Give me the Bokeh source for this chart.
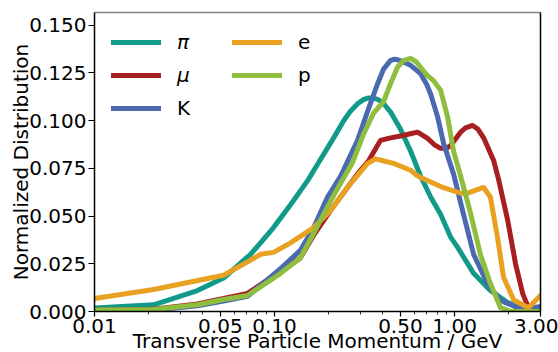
from bokeh.plotting import figure
from bokeh.models import (FixedTicker, CustomJSTickFormatter, LogAxis, LinearAxis,
                          Legend, LegendItem, Range1d)
from bokeh.embed import file_html
from bokeh.resources import INLINE

# ---------------- data ----------------
pi_x = [0.01, 0.0213, 0.0373, 0.0521, 0.0736, 0.0836, 0.0987, 0.1227, 0.153, 0.173, 0.213,
        0.242, 0.264, 0.290, 0.312, 0.329, 0.350, 0.374, 0.403, 0.441, 0.501, 0.570, 0.647,
        0.736, 0.836, 0.950, 1.04, 1.275, 1.58, 1.97, 2.42, 3.0]
pi_y = [0.0019, 0.0035, 0.011, 0.0175, 0.030, 0.036, 0.044, 0.0560, 0.0687, 0.077, 0.091,
        0.100, 0.105, 0.109, 0.111, 0.1118, 0.112, 0.1112, 0.109, 0.1045, 0.0955, 0.084, 0.071,
        0.060, 0.051, 0.039, 0.0336, 0.020, 0.011, 0.0047, 0.0015, 0.0]

mu_x = [0.01, 0.0213, 0.0373, 0.0521, 0.0708, 0.108, 0.139, 0.165, 0.205, 0.254, 0.300,
        0.333, 0.388, 0.441, 0.501, 0.560, 0.623, 0.708, 0.770, 0.836, 0.900, 0.950, 1.08,
        1.15, 1.26, 1.35, 1.45, 1.65, 1.76, 1.97, 2.18, 2.39, 2.57, 3.0]
mu_y = [0.0006, 0.0012, 0.004, 0.0068, 0.0095, 0.021, 0.028, 0.040, 0.053, 0.065, 0.074,
        0.079, 0.0897, 0.091, 0.092, 0.093, 0.094, 0.0907, 0.0875, 0.0855, 0.0855, 0.087, 0.094,
        0.0962, 0.0975, 0.0955, 0.091, 0.079, 0.0687, 0.048, 0.025, 0.0094, 0.002, 0.0]

k_x = [0.01, 0.0213, 0.0373, 0.0521, 0.0708, 0.108, 0.139, 0.165, 0.197, 0.233, 0.289,
       0.329, 0.374, 0.403, 0.441, 0.465, 0.488, 0.520, 0.570, 0.647, 0.700, 0.736, 0.805,
       0.869, 0.987, 1.12, 1.275, 1.52, 1.80, 2.24, 2.75, 3.0]
k_y = [0.0004, 0.0007, 0.003, 0.0055, 0.008, 0.0225, 0.032, 0.044, 0.060, 0.071, 0.0897,
       0.105, 0.1195, 0.127, 0.1316, 0.1322, 0.1318, 0.1308, 0.129, 0.1247, 0.119, 0.114,
       0.102, 0.088, 0.072, 0.051, 0.030, 0.0147, 0.0058, 0.002, 0.002, 0.0026]

e_x = [0.01, 0.0213, 0.0521, 0.0708, 0.0836, 0.0987, 0.1227, 0.165, 0.205, 0.254, 0.329,
       0.364, 0.400, 0.458, 0.570, 0.623, 0.836, 1.08, 1.18, 1.45, 1.58, 1.73, 1.87, 2.13,
       2.57, 3.0]
e_y = [0.0068, 0.0115, 0.019, 0.026, 0.030, 0.031, 0.036, 0.044, 0.053, 0.065, 0.0776,
       0.080, 0.079, 0.0776, 0.074, 0.071, 0.0655, 0.062, 0.062, 0.065, 0.060, 0.039, 0.018,
       0.006, 0.002, 0.0084]

p_x = [0.01, 0.0213, 0.0373, 0.0521, 0.0708, 0.108, 0.139, 0.165, 0.205, 0.242, 0.271,
       0.312, 0.355, 0.403, 0.441, 0.482, 0.520, 0.570, 0.610, 0.647, 0.700, 0.764, 0.836,
       0.914, 0.987, 1.08, 1.23, 1.39, 1.58, 1.80, 2.05, 3.0]
p_y = [0.0008, 0.001, 0.0035, 0.0063, 0.0084, 0.020, 0.028, 0.041, 0.058, 0.070, 0.078,
       0.093, 0.104, 0.110, 0.1195, 0.128, 0.1315, 0.1327, 0.131, 0.128, 0.124, 0.121, 0.116,
       0.102, 0.084, 0.071, 0.051, 0.030, 0.0147, 0.002, 0.0, 0.0]

x_ticks = [0.01, 0.05, 0.1, 0.5, 1.0, 3.0]
x_minor = [0.02, 0.03, 0.04, 0.06, 0.07, 0.08, 0.09, 0.2, 0.3, 0.4, 0.6, 0.7, 0.8, 0.9, 2.0]
y_ticks = [0.0, 0.025, 0.05, 0.075, 0.1, 0.125, 0.15]

FONT = "DejaVu Sans"
FS = "20px"

p = figure(frame_width=446, frame_height=299, x_axis_type="log",
           x_range=Range1d(0.01, 3.0), y_range=Range1d(0, 0.1567),
           output_backend="svg", toolbar_location=None,
           min_border_left=94, min_border_right=18, min_border_top=12, min_border_bottom=41,
           background_fill_color="white", border_fill_color="white")
p.outline_line_color = None
p.xgrid.visible = False
p.ygrid.visible = False

series = [
    ("π", pi_x, pi_y, "#11998a"),
    ("μ", mu_x, mu_y, "#a81f22"),
    ("K", k_x, k_y, "#4a69b0"),
    ("e", e_x, e_y, "#e8a121"),
    ("p", p_x, p_y, "#8fbd3d"),
]
rs = {}
for name, xs, ys, col in series:
    rs[name] = p.line(xs, ys, line_width=5, line_color=col, line_join="round", line_cap="round")

# x axis
xa = p.xaxis[0]
xa.ticker = FixedTicker(ticks=x_ticks, minor_ticks=x_minor)
xa.formatter = CustomJSTickFormatter(code="return tick.toFixed(2)")
xa.major_label_text_font = FONT
xa.major_label_text_font_size = FS
xa.major_label_text_color = "black"
xa.major_label_standoff = 2
xa.major_tick_out = 5
xa.major_tick_in = 0
xa.minor_tick_out = 3
xa.minor_tick_in = 0
xa.axis_line_color = "black"
xa.axis_line_width = 1.5
xa.major_tick_line_color = "black"
xa.major_tick_line_width = 1.2
xa.minor_tick_line_color = "black"
xa.minor_tick_line_width = 0.8
xa.axis_label = "Transverse Particle Momentum / GeV"
xa.axis_label_text_font = FONT
xa.axis_label_text_font_size = FS
xa.axis_label_text_font_style = "normal"
xa.axis_label_text_color = "black"
xa.axis_label_standoff = -7

# y axis
ya = p.yaxis[0]
ya.ticker = FixedTicker(ticks=y_ticks)
ya.formatter = CustomJSTickFormatter(code="return tick.toFixed(3)")
ya.major_label_text_font = FONT
ya.major_label_text_font_size = FS
ya.major_label_text_color = "black"
ya.major_label_standoff = 2
ya.major_tick_out = 6
ya.major_tick_in = 0
ya.minor_tick_line_color = None
ya.axis_line_color = "black"
ya.axis_line_width = 1.5
ya.major_tick_line_color = "black"
ya.major_tick_line_width = 1.2
ya.axis_label = "Normalized Distribution"
ya.axis_label_text_font = FONT
ya.axis_label_text_font_size = FS
ya.axis_label_text_font_style = "normal"
ya.axis_label_text_color = "black"
ya.axis_label_standoff = -7

# top (grey) and right (black) spines
top = LogAxis(ticker=FixedTicker(ticks=[]), axis_line_color="#808080", axis_line_width=1.5,
              major_tick_out=0, major_tick_in=0, minor_tick_out=0, minor_tick_in=0,
              major_label_text_font_size="0px", major_label_standoff=0)
p.add_layout(top, "above")
right = LinearAxis(ticker=FixedTicker(ticks=[]), axis_line_color="black", axis_line_width=1.5,
                   major_tick_out=0, major_tick_in=0, minor_tick_out=0, minor_tick_in=0,
                   major_label_text_font_size="0px", major_label_standoff=0)
p.add_layout(right, "right")

# legends (two columns: pi, mu, K | e, p)
common = dict(orientation="vertical", glyph_width=50, glyph_height=30, label_height=30,
              spacing=3, label_standoff=16, padding=0, margin=0, border_line_color=None,
              background_fill_alpha=0, label_text_font=FONT, label_text_font_size=FS,
              label_text_color="black")
legA = Legend(items=[LegendItem(label="π", renderers=[rs["π"]]),
                     LegendItem(label="μ", renderers=[rs["μ"]])],
              location=(17, 221), label_text_font_style="italic", **common)
legB = Legend(items=[LegendItem(label="K", renderers=[rs["K"]])],
              location=(17, 188), **common)
legC = Legend(items=[LegendItem(label="e", renderers=[rs["e"]]),
                     LegendItem(label="p", renderers=[rs["p"]])],
              location=(138, 221), **common)
for lg in (legA, legB, legC):
    p.add_layout(lg, "center")

open("out.html", "w").write(file_html(p, INLINE))
